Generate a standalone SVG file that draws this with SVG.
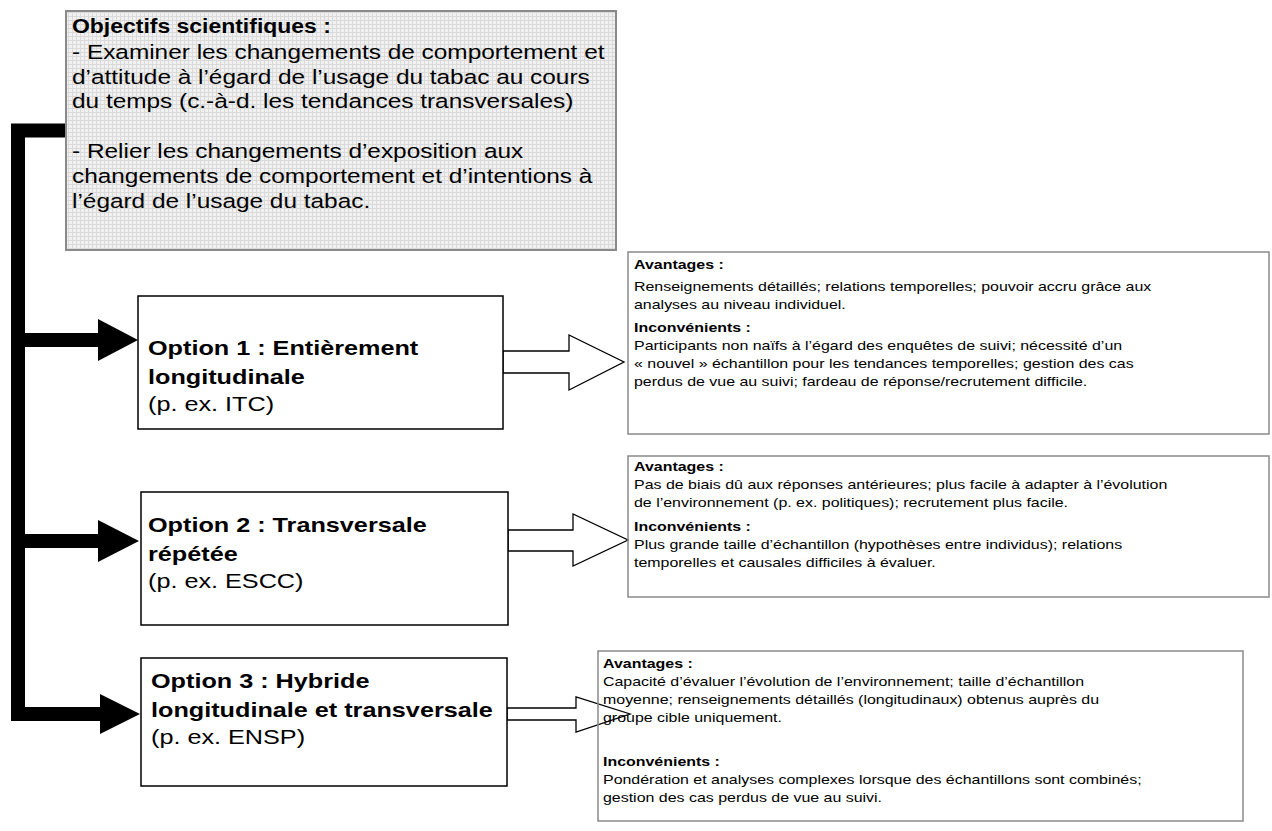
<svg xmlns="http://www.w3.org/2000/svg" width="1272" height="831" viewBox="0 0 1272 831">
<defs>
<pattern id="grid" width="4" height="4" patternUnits="userSpaceOnUse">
<rect width="4" height="4" fill="#f1f1f1"/>
<path d="M0,0.5H4M0.5,0V4" stroke="#dadada" stroke-width="1"/>
</pattern>
<style>
text{font-family:"Liberation Sans",Arial,sans-serif;fill:#000}
.obj{font-size:20.5px}
.opt{font-size:20.5px}
.det{font-size:13.4px}
.b{font-weight:bold}
.optbox{fill:#fff;stroke:#000;stroke-width:1.5}
.detbox{fill:none;stroke:#8a8a8a;stroke-width:1.5}
.hollow{fill:#fff;stroke:#000;stroke-width:1.3;stroke-linejoin:miter}
</style>
</defs>
<rect width="1272" height="831" fill="#fff"/>

<g id="connectors">
<path d="M66,130.5H18V714H100M18,340H100M18,541H100" fill="none" stroke="#000" stroke-width="14"/>
<polygon points="98,319 138,340 98,361"/>
<polygon points="98,520 139,541 98,562"/>
<polygon points="100,694 140,714 100,734"/>
<polygon class="hollow" points="503,351 569,351 569,335 624,362 569,390 569,373 503,373"/>
<polygon class="hollow" points="508,530 573,530 573,514 628,540 573,566 573,551 508,551"/>
<polygon class="hollow" points="507,708 576,708 576,697 630,714 576,732 576,720 507,720"/>
</g>

<g id="objectifs">
<rect x="66" y="11" width="550" height="239" fill="url(#grid)" stroke="#8a8a8a" stroke-width="2"/>
<g transform="translate(72,0) scale(1.12,1)">
<text class="obj b" x="0" y="33">Objectifs scientifiques :</text>
</g>
<g transform="translate(72,0) scale(1.19,1)">
<text class="obj" x="0" y="59">- Examiner les changements de comportement et</text>
<text class="obj" x="0" y="84">d’attitude à l’égard de l’usage du tabac au cours</text>
<text class="obj" x="0" y="108">du temps (c.-à-d. les tendances transversales)</text>
<text class="obj" x="0" y="158">- Relier les changements d’exposition aux</text>
<text class="obj" x="0" y="183">changements de comportement et d’intentions à</text>
<text class="obj" x="0" y="208">l’égard de l’usage du tabac.</text>
</g>
</g>

<g id="option1">
<rect class="optbox" x="138" y="296" width="365" height="133"/>
<g transform="translate(148,0) scale(1.23,1)">
<text class="opt b" x="0" y="355">Option 1 : Entièrement</text>
<text class="opt b" x="0" y="384">longitudinale</text>
<text class="opt" x="0" y="411">(p. ex. ITC)</text>
</g>
</g>

<g id="option2">
<rect class="optbox" x="141" y="492" width="367" height="133"/>
<g transform="translate(148,0) scale(1.23,1)">
<text class="opt b" x="0" y="532">Option 2 : Transversale</text>
<text class="opt b" x="0" y="561">répétée</text>
<text class="opt" x="0" y="588">(p. ex. ESCC)</text>
</g>
</g>

<g id="option3">
<rect class="optbox" x="141" y="658" width="366" height="128"/>
<g transform="translate(151,0) scale(1.23,1)">
<text class="opt b" x="0" y="688">Option 3 : Hybride</text>
<text class="opt b" x="0" y="717">longitudinale et transversale</text>
<text class="opt" x="0" y="744">(p. ex. ENSP)</text>
</g>
</g>

<g id="details1">
<rect class="detbox" x="628" y="252" width="641" height="182"/>
<g transform="translate(634,0) scale(1.19,1)">
<text class="det b" x="0" y="269">Avantages :</text>
<text class="det" x="0" y="291">Renseignements détaillés; relations temporelles; pouvoir accru grâce aux</text>
<text class="det" x="0" y="309">analyses au niveau individuel.</text>
<text class="det b" x="0" y="332">Inconvénients :</text>
<text class="det" x="0" y="350">Participants non naïfs à l’égard des enquêtes de suivi; nécessité d’un</text>
<text class="det" x="0" y="368">« nouvel » échantillon pour les tendances temporelles; gestion des cas</text>
<text class="det" x="0" y="386">perdus de vue au suivi; fardeau de réponse/recrutement difficile.</text>
</g>
</g>

<g id="details2">
<rect class="detbox" x="628" y="456" width="641" height="141"/>
<g transform="translate(634,0) scale(1.19,1)">
<text class="det b" x="0" y="471">Avantages :</text>
<text class="det" x="0" y="489">Pas de biais dû aux réponses antérieures; plus facile à adapter à l’évolution</text>
<text class="det" x="0" y="507">de l’environnement (p. ex. politiques); recrutement plus facile.</text>
<text class="det b" x="0" y="531">Inconvénients :</text>
<text class="det" x="0" y="549">Plus grande taille d’échantillon (hypothèses entre individus); relations</text>
<text class="det" x="0" y="567">temporelles et causales difficiles à évaluer.</text>
</g>
</g>

<g id="details3">
<rect class="detbox" x="598" y="651" width="645" height="170"/>
<g transform="translate(603,0) scale(1.19,1)">
<text class="det b" x="0" y="668">Avantages :</text>
<text class="det" x="0" y="686">Capacité d’évaluer l’évolution de l’environnement; taille d’échantillon</text>
<text class="det" x="0" y="704">moyenne; renseignements détaillés (longitudinaux) obtenus auprès du</text>
<text class="det" x="0" y="722">groupe cible uniquement.</text>
<text class="det b" x="0" y="766">Inconvénients :</text>
<text class="det" x="0" y="784">Pondération et analyses complexes lorsque des échantillons sont combinés;</text>
<text class="det" x="0" y="802">gestion des cas perdus de vue au suivi.</text>
</g>
</g>
</svg>
